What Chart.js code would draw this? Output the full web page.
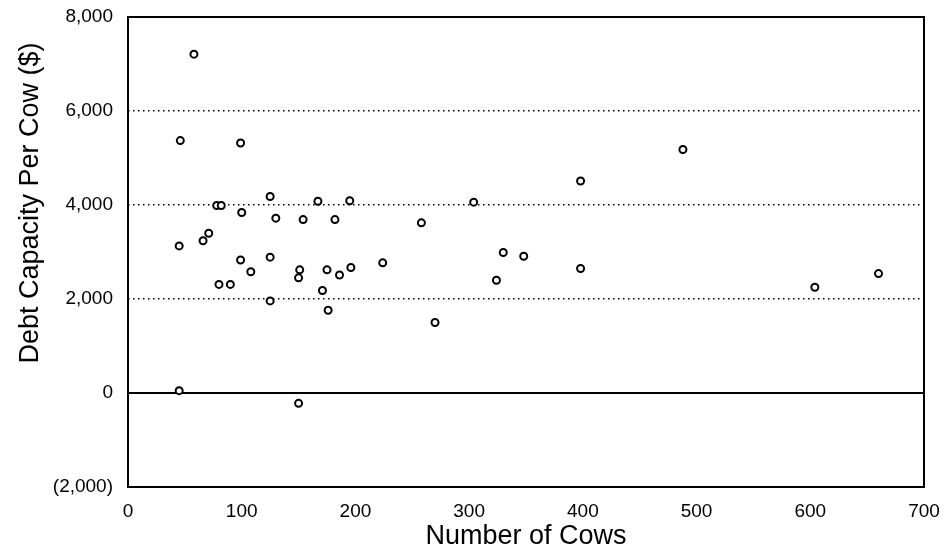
<!DOCTYPE html>
<html>
<head>
<meta charset="utf-8">
<script src="https://cdn.jsdelivr.net/npm/chart.js@4/dist/chart.umd.min.js"></script>
<style>
  html, body { margin: 0; padding: 0; background: #fff; }
  #wrap { width: 944px; height: 557px; }
</style>
</head>
<body>
<div id="wrap"><canvas id="cows" width="944" height="557"></canvas></div>
<script>
// herd size vs debt capacity per cow
const herdSize = [58, 46, 99, 125, 78, 82, 100, 167, 195, 130, 154, 182, 258, 71, 66, 45,
  99, 125, 108, 80, 90, 151, 150, 175, 186, 196, 224, 171, 125, 176, 270, 45, 150,
  304, 398, 488, 330, 348, 324, 398, 604, 660];
const debtPerCow = [7210, 5370, 5320, 4180, 3990, 3990, 3840, 4080, 4090, 3720, 3690, 3690, 3620, 3400, 3240, 3130,
  2830, 2890, 2580, 2310, 2310, 2620, 2450, 2620, 2510, 2670, 2770, 2180, 1960, 1760, 1500, 50, -220,
  4060, 4510, 5180, 2990, 2910, 2400, 2650, 2250, 2540];

const xTicks = [0, 100, 200, 300, 400, 500, 600, 700];
const yTicks = [-2000, 0, 2000, 4000, 6000, 8000];

const yTitle = "Debt Capacity Per Cow ($)";
const xTitle = "Number of Cows";
const FONT = "'Liberation Sans', Arial, Helvetica, sans-serif";

const points = herdSize.map((x, i) => ({ x: x, y: debtPerCow[i] }));

// box around the plot area
const frame = {
  id: "frame",
  beforeDatasetsDraw(chart) {
    const { ctx, chartArea: a } = chart;
    ctx.save();
    ctx.strokeStyle = "#000";
    ctx.lineWidth = 2;
    ctx.strokeRect(a.left, a.top, a.right - a.left, a.bottom - a.top);
    ctx.restore();
  }
};

// y title sits higher than the axis centre in the original
const sideTitle = {
  id: "sideTitle",
  afterDraw(chart) {
    const ctx = chart.ctx;
    ctx.save();
    ctx.translate(31, 203);
    ctx.rotate(-Math.PI / 2);
    ctx.font = "27px " + FONT;
    ctx.fillStyle = "#000";
    ctx.textAlign = "center";
    ctx.textBaseline = "middle";
    ctx.fillText(yTitle, 0, 0);
    ctx.restore();
  }
};

const fmt = (v) => {
  const s = Math.abs(v).toLocaleString("en-US");
  return v < 0 ? "(" + s + ")" : s;
};

new Chart(document.getElementById("cows"), {
  type: "scatter",
  data: {
    datasets: [{
      data: points,
      pointStyle: "circle",
      pointRadius: 3.5,
      pointHoverRadius: 3.5,
      pointBorderWidth: 2,
      pointBorderColor: "#000",
      pointBackgroundColor: "#fff"
    }]
  },
  options: {
    responsive: false,
    animation: false,
    layout: { padding: { top: 17, right: 20, left: 0, bottom: 0 } },
    plugins: {
      legend: { display: false },
      tooltip: { enabled: false }
    },
    scales: {
      x: {
        type: "linear",
        min: xTicks[0],
        max: xTicks[xTicks.length - 1],
        afterBuildTicks: (s) => { s.ticks = xTicks.map(v => ({ value: v })); },
        afterFit: (s) => { s.height = 70; s.paddingLeft = 0; s.paddingRight = 0; },
        grid: { display: false },
        border: { display: false },
        ticks: {
          color: "#000",
          padding: 5,
          maxRotation: 0,
          font: { family: FONT, size: 19 }
        },
        title: {
          display: true,
          text: xTitle,
          color: "#000",
          padding: { top: 3 },
          font: { family: FONT, size: 27 }
        }
      },
      y: {
        type: "linear",
        min: yTicks[0],
        max: yTicks[yTicks.length - 1],
        afterBuildTicks: (s) => { s.ticks = yTicks.map(v => ({ value: v })); },
        afterFit: (s) => { s.width = 128; s.paddingTop = 0; s.paddingBottom = 0; },
        grid: {
          drawTicks: false,
          color: (c) => (c.tick && (c.tick.value === yTicks[0] || c.tick.value === yTicks[yTicks.length - 1])) ? "rgba(0,0,0,0)" : "#000",
          lineWidth: (c) => (c.tick && c.tick.value === 0) ? 2 : 1.5
        },
        border: {
          display: false,
          dash: (c) => (c.tick && c.tick.value === 0) ? [] : [1.5, 3.5]
        },
        ticks: {
          color: "#000",
          padding: 15,
          font: { family: FONT, size: 19 },
          callback: (v) => fmt(v)
        }
      }
    }
  },
  plugins: [frame, sideTitle]
});
</script>
</body>
</html>
